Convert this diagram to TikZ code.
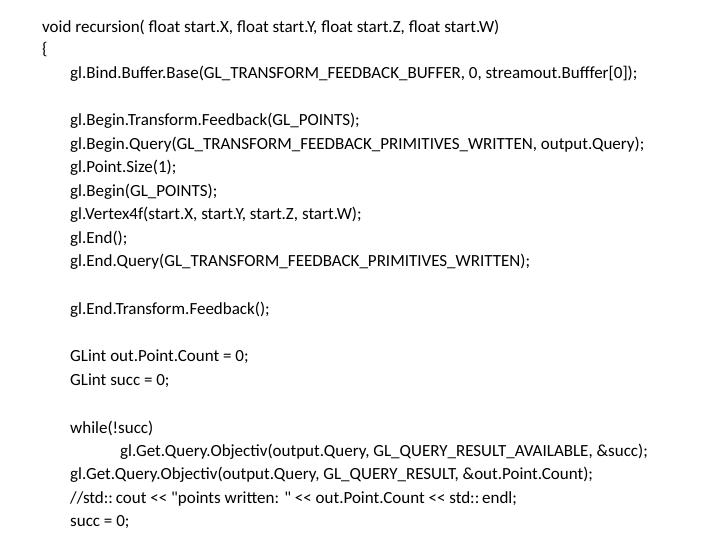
\documentclass[tikz,border=0pt]{standalone}
\usepackage{fontspec}
\setmainfont{Carlito}[Ligatures=TeXOff]
\tikzset{codeline/.style={anchor=west, inner sep=0pt, font=\fontsize{17}{20}\selectfont}}
\begin{document}
\begin{tikzpicture}[x=1pt,y=-1pt]
    \useasboundingbox (0,0) rectangle (720,540);
    \node[codeline] (head) at (42,27) {void recursion( float start.X, float start.Y, float start.Z, float start.W)};
    \node[codeline] (brace) at (42,50) {\{};
    \node[codeline] (bind) at (70,74) {gl.Bind.Buffer.Base(GL\_TRANSFORM\_FEEDBACK\_BUFFER, 0, streamout.Bufffer[0]);};

    \node[codeline] (tfbegin) at (70,121) {gl.Begin.Transform.Feedback(GL\_POINTS);};
    \node[codeline] (qbegin) at (70,145) {gl.Begin.Query(GL\_TRANSFORM\_FEEDBACK\_PRIMITIVES\_WRITTEN, output.Query);};
    \node[codeline] (psize) at (70,168) {gl.Point.Size(1);};
    \node[codeline] (begin) at (70,192) {gl.Begin(GL\_POINTS);};
    \node[codeline] (vertex) at (70,215) {gl.Vertex4f(start.X, start.Y, start.Z, start.W);};
    \node[codeline] (end) at (70,239) {gl.End();};
    \node[codeline] (qend) at (70,262) {gl.End.Query(GL\_TRANSFORM\_FEEDBACK\_PRIMITIVES\_WRITTEN);};

    \node[codeline] (tfend) at (70,310) {gl.End.Transform.Feedback();};

    \node[codeline] (count) at (70,357) {GLint out.Point.Count = 0;};
    \node[codeline] (succ) at (70,381) {GLint succ = 0;};

    \node[codeline] (loop) at (70,428) {while(!succ)};
    \node[codeline] (avail) at (120,452) {gl.Get.Query.Objectiv(output.Query, GL\_QUERY\_RESULT\_AVAILABLE, \&succ);};
    \node[codeline] (result) at (70,475) {gl.Get.Query.Objectiv(output.Query, GL\_QUERY\_RESULT, \&out.Point.Count);};
    \node[codeline] (comment) at (70,499) {//std::\,cout {<}{<} "points written: " {<}{<} out.Point.Count {<}{<} std::\,endl;};
    \node[codeline] (reset) at (70,522) {succ = 0;};
\end{tikzpicture}
\end{document}
